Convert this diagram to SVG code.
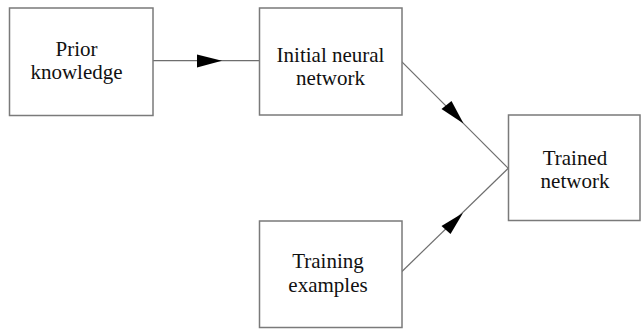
<svg xmlns="http://www.w3.org/2000/svg" width="641" height="329" viewBox="0 0 641 329">
<style>
.box{fill:#fff;stroke:#7a7a7a;stroke-width:1.5}
.t{font-family:"Liberation Serif",serif;font-size:21px;fill:#111;text-anchor:middle}
.c{stroke:#6e6e6e;stroke-width:1.2;fill:none}
.ah{fill:#000}
</style>
<rect width="641" height="329" fill="#fff"/>
<g id="connectors">
<line class="c" x1="153" y1="60.7" x2="259" y2="60.7"/>
<polygon class="ah" points="222,60.7 197,54.5 197,67.5"/>
<line class="c" x1="401.7" y1="61.7" x2="508.3" y2="168.3"/>
<polygon class="ah" points="463.5,123.5 441.5,109 451.5,101"/>
<line class="c" x1="401.7" y1="271.7" x2="508.3" y2="168.3"/>
<polygon class="ah" points="463,213 450.5,234 441.5,226"/>
</g>
<g id="prior">
<rect class="box" x="9.5" y="8" width="143.5" height="107.5"/>
<text class="t" x="76.5" y="56">Prior</text>
<text class="t" x="76.5" y="79">knowledge</text>
</g>
<g id="initial">
<rect class="box" x="259.5" y="8" width="142.5" height="107"/>
<text class="t" x="330.5" y="62">Initial neural</text>
<text class="t" x="330.5" y="85">network</text>
</g>
<g id="training">
<rect class="box" x="259.5" y="221" width="142.5" height="106.5"/>
<text class="t" x="328" y="268">Training</text>
<text class="t" x="328" y="291.5">examples</text>
</g>
<g id="trained">
<rect class="box" x="508.5" y="115" width="131.5" height="105.5"/>
<text class="t" x="575" y="165">Trained</text>
<text class="t" x="575" y="188">network</text>
</g>
</svg>
